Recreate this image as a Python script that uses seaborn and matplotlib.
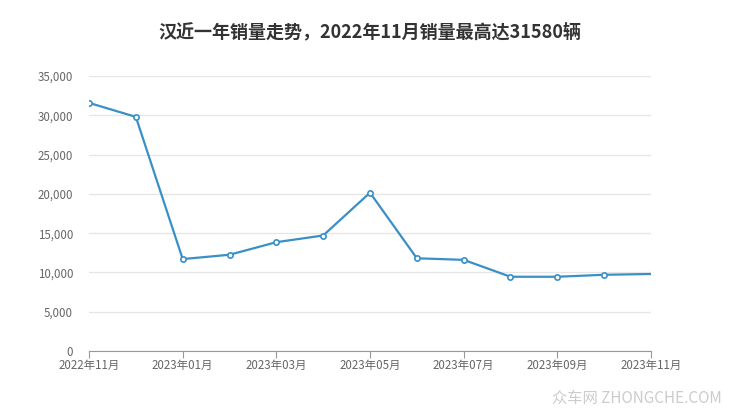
import matplotlib
matplotlib.use("Agg")
import matplotlib.pyplot as plt
import seaborn as sns
import pandas as pd

months = ["2022年11月", "2022年12月", "2023年01月", "2023年02月", "2023年03月",
          "2023年04月", "2023年05月", "2023年06月", "2023年07月", "2023年08月",
          "2023年09月", "2023年10月", "2023年11月"]
sales = [31580, 29800, 11700, 12250, 13850, 14700, 20150, 11800, 11600,
         9450, 9450, 9700, 9800]
yticks = [0, 5000, 10000, 15000, 20000, 25000, 30000, 35000]

sns.set_style("white")
plt.rcParams['font.family'] = ['Noto Sans CJK SC', 'DejaVu Sans']

df = pd.DataFrame({"idx": range(len(months)), "sales": sales})

fig = plt.figure(figsize=(7.4, 4.17), dpi=100)
ax = fig.add_axes([0.1203, 0.1583, 0.7594, 0.6594])

color = "#3a8fc7"
sns.lineplot(data=df, x="idx", y="sales", ax=ax, color=color, linewidth=1.6)
ax.plot(df["idx"][:-1], df["sales"][:-1], linestyle="none", marker="o",
        markersize=3.8, markerfacecolor="white", markeredgecolor=color,
        markeredgewidth=1.2)

ax.set_xlim(0, len(months) - 1)
ax.set_ylim(0, 35000)
ax.set_yticks(yticks)
ax.set_yticklabels([f"{v:,}" for v in yticks])
ax.set_xticks(range(0, len(months), 2))
ax.set_xticklabels(months[::2])
ax.set_xlabel("")
ax.set_ylabel("")

ax.grid(axis="y", color="#e6e6e6", linewidth=1)
ax.set_axisbelow(True)
for s in ["top", "right", "left"]:
    ax.spines[s].set_visible(False)
ax.spines["bottom"].set_color("#999999")
ax.tick_params(axis="x", bottom=True, length=5, color="#999999",
               labelsize=8.3, labelcolor="#666666", pad=1)
ax.tick_params(axis="y", left=False, labelsize=8.3, labelcolor="#666666", pad=8)

fig.text(0.5, 0.923, "汉近一年销量走势，2022年11月销量最高达31580辆",
         ha="center", va="center", fontsize=13, fontweight="bold",
         color="#333333")
fig.text(0.976, 0.045, "众车网 ZHONGCHE.COM", ha="right", va="center",
         fontsize=11, color="#cccccc")

fig.savefig("out.png", dpi=100)
